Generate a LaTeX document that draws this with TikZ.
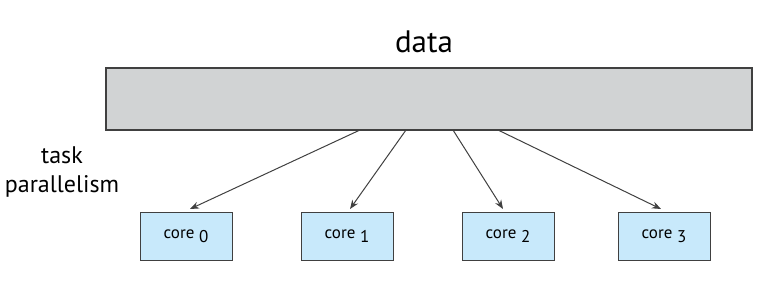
\documentclass[tikz,border=0pt]{standalone}
\usepackage{fontspec}
\setmainfont[Numbers=Lining]{PT Sans}
\usetikzlibrary{arrows.meta}
\definecolor{datagray}{HTML}{D1D3D4}
\definecolor{coreblue}{HTML}{C8E9FB}
\definecolor{edge}{HTML}{404040}
\begin{document}
\begin{tikzpicture}[x=1pt,y=-1pt,
  corebox/.style={draw=edge,line width=1pt,fill=coreblue,minimum width=92pt,minimum height=48pt,inner sep=0pt,font=\fontsize{17}{20}\selectfont},
  conn/.style={draw=edge,line width=1pt,-{Stealth[length=9pt,width=7pt]}}]
\useasboundingbox (0,0) rectangle (764,282);
\node[draw=edge,line width=1.2pt,fill=datagray,minimum width=646pt,minimum height=62pt,inner sep=0pt] (data) at (429,99) {};
\node[font=\fontsize{31}{34}\selectfont] (title) at (424,42) {data};
\node[font=\fontsize{24}{29}\selectfont,align=center] (task) at (62,172) {task\\parallelism};
\node[corebox] (c0) at (186,236) {core\raisebox{-4pt}{ 0}};
\node[corebox] (c1) at (347,236) {core\raisebox{-4pt}{ 1}};
\node[corebox] (c2) at (508,236) {core\raisebox{-4pt}{ 2}};
\node[corebox] (c3) at (664,236) {core\raisebox{-4pt}{ 3}};
\coordinate (s0) at (360,130);
\coordinate (s1) at (406,130);
\coordinate (s2) at (453,130);
\coordinate (s3) at (498,130);
\coordinate (e0) at (190,209);
\coordinate (e1) at (350,209);
\coordinate (e2) at (503,209);
\coordinate (e3) at (661,209);
\draw[conn] (s0) -- (e0);
\draw[conn] (s1) -- (e1);
\draw[conn] (s2) -- (e2);
\draw[conn] (s3) -- (e3);
\end{tikzpicture}
\end{document}
